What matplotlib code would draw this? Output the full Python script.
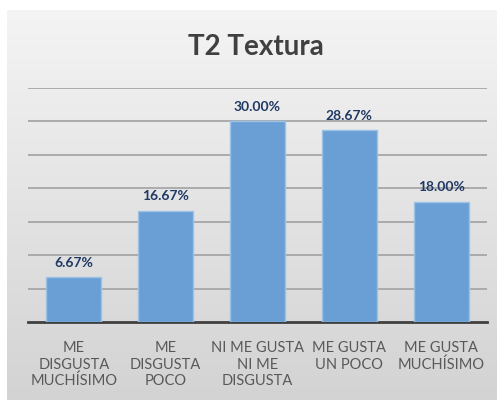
import numpy as np
import matplotlib.pyplot as plt

categories = ["ME\nDISGUSTA\nMUCHÍSIMO", "ME\nDISGUSTA\nPOCO",
              "NI ME GUSTA\nNI ME\nDISGUSTA", "ME GUSTA\nUN POCO", "ME GUSTA\nMUCHÍSIMO"]
values = [6.67, 16.67, 30.00, 28.67, 18.00]
labels = ["6.67%", "16.67%", "30.00%", "28.67%", "18.00%"]

plt.rcParams["font.family"] = ["Lato", "DejaVu Sans"]

fig = plt.figure(figsize=(4.97, 4.00), dpi=100)
fig.patch.set_facecolor("white")

# gradient background of chart area
bg = fig.add_axes([7 / 497, 0, 490 / 497, 390 / 400])
grad = np.linspace(0, 1, 256).reshape(-1, 1)
cmap = plt.matplotlib.colors.LinearSegmentedColormap.from_list("bg", ["#f4f4f4", "#d3d3d3"])
bg.imshow(grad, aspect="auto", cmap=cmap, extent=[0, 1, 0, 1], origin="upper")
bg.set_axis_off()

ax = fig.add_axes([28 / 497, 78 / 400, 459 / 497, 234 / 400])
ax.set_facecolor("none")
x = np.arange(len(categories))
ax.bar(x, values, width=0.6, color="#6a9fd5", edgecolor="#9cc2e8", linewidth=1.0, zorder=3)
for xi, v, lab in zip(x, values, labels):
    ax.text(xi, v + 1.3, lab, ha="center", va="bottom", fontsize=10,
            fontweight="bold", color="#1f3864", zorder=4)

ax.set_xlim(-0.5, len(categories) - 0.5)
ax.set_ylim(0, 35)
ax.set_yticks(np.arange(5, 36, 5))
ax.yaxis.grid(True, color="#a6a6a6", linewidth=1.3, zorder=0)
ax.tick_params(axis="y", left=False, labelleft=False)
ax.set_xticks(x)
ax.set_xticklabels(categories, fontsize=10.5, color="#595959", linespacing=1.2)
ax.tick_params(axis="x", length=0, pad=14)
for s in ["top", "right", "left"]:
    ax.spines[s].set_visible(False)
ax.spines["bottom"].set_color("#404040")
ax.spines["bottom"].set_linewidth(2)

fig.text(256 / 497, 1 - 47 / 400, "T2 Textura", ha="center", va="center",
         fontsize=20, fontweight="bold", color="#404040")

fig.savefig("out.png", dpi=100)
